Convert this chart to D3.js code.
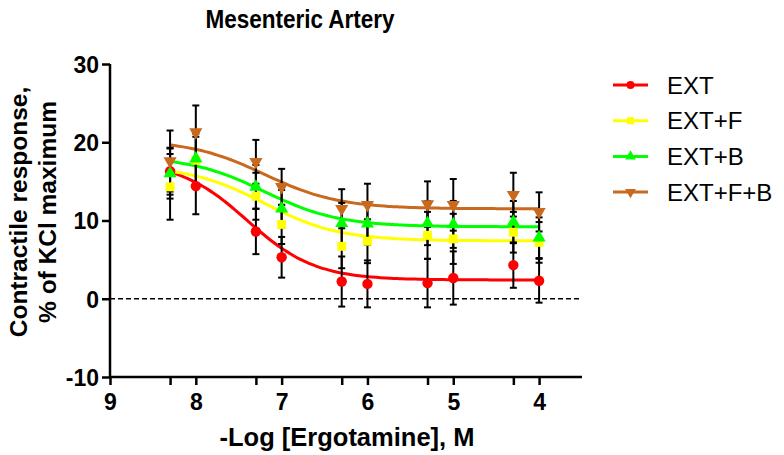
<!DOCTYPE html>
<html><head><meta charset="utf-8">
<script src="https://cdn.jsdelivr.net/npm/d3@7"></script>
<style>html,body{margin:0;padding:0;background:#fff;}svg{display:block;}</style>
</head><body>
<svg id="c" width="784" height="455"></svg>
<script>
const logConc = [8.3, 8, 7.3, 7, 6.3, 6, 5.3, 5, 4.3, 4];
const seriesNames = ["EXT", "EXT+F", "EXT+B", "EXT+F+B"];
const seriesColors = ["#FF0000", "#FFFF00", "#00FF00", "#C8691E"];
const seriesShapes = ["circle", "square", "triangle", "triangleDown"];
const extMean  = [16.3, 14.4, 8.6, 5.3, 2.2, 1.9, 2.0, 2.65, 4.3, 2.3];
const extSem   = [3.0, 3.6, 2.9, 2.6, 3.2, 3.0, 3.1, 3.4, 2.9, 2.8];
const extFMean = [14.3, 17.7, 13.1, 9.5, 6.7, 7.35, 8.1, 7.65, 8.5, 7.2];
const extFSem  = [4.2, 3.0, 3.0, 2.5, 2.8, 2.8, 3.0, 3.2, 2.6, 2.6];
const extBMean = [16.0, 17.9, 14.3, 11.5, 9.65, 9.6, 9.65, 9.5, 9.8, 7.8];
const extBSem  = [3.2, 3.2, 2.8, 2.4, 2.6, 2.7, 2.8, 3.0, 2.7, 2.6];
const extFBMean = [17.6, 21.3, 17.5, 14.3, 11.5, 12.0, 12.1, 12.0, 13.3, 11.1];
const extFBSem  = [3.9, 3.4, 2.8, 2.3, 2.5, 2.7, 2.9, 3.3, 2.8, 2.5];
// sigmoidal fit parameters (top, bottom, -logIC50, hill)
const fitTop    = [17.6, 17.0, 18.2, 20.3];
const fitBottom = [2.4, 7.4, 9.2, 11.5];
const fitMid    = [7.4, 7.2, 7.2, 7.2];
const fitHill   = [1.1, 1.0, 1.0, 1.0];
const xTicks = [9, 8, 7, 6, 5, 4];
const xMinorTicks = [8.3, 7.3, 6.3, 5.3, 4.3];
const yTicks = [-10, 0, 10, 20, 30];
const yTickLabels = ["-10", "0", "10", "20", "30"];

const means = [extMean, extFMean, extBMean, extFBMean];
const sems = [extSem, extFSem, extBSem, extFBSem];

const svg = d3.select("#c");
const x = d3.scaleLinear().domain([9, 3.5]).range([110, 582]);
const y = d3.scaleLinear().domain([-10, 30]).range([377, 64]);
const FONT = "'Liberation Sans', Arial, sans-serif";

// title
svg.append("text").attr("transform", "translate(300,28) scale(0.9,1)").attr("text-anchor", "middle")
  .attr("font-family", FONT).attr("font-weight", "bold").attr("font-size", 25).text("Mesenteric Artery");

// y axis
const yAxis = svg.append("g").attr("transform", `translate(${x(9)},0)`)
  .call(d3.axisLeft(y).tickValues(yTicks).tickSize(8).tickPadding(3)
    .tickFormat((d, i) => yTickLabels[i]));
yAxis.select(".domain").attr("stroke-width", 2.5).attr("d", `M0,${y(30)}V${y(-10)}`);
yAxis.selectAll(".tick line").attr("stroke-width", 2.5);
yAxis.selectAll(".tick text").attr("font-family", FONT).attr("font-weight", "bold").attr("font-size", 23).attr("fill", "#000").attr("dy", "0.36em");

// x axis
const xAxis = svg.append("g").attr("transform", `translate(0,${y(-10)})`)
  .call(d3.axisBottom(x).tickValues(xTicks).tickSize(8).tickPadding(9).tickFormat(d => String(d)));
xAxis.select(".domain").attr("stroke-width", 2.5).attr("d", `M${x(9)},0H${x(3.5)}`);
xAxis.selectAll(".tick line").attr("stroke-width", 2.5);
xAxis.selectAll(".tick text").attr("font-family", FONT).attr("font-weight", "bold").attr("font-size", 23).attr("fill", "#000");
const xMinor = svg.append("g").attr("transform", `translate(0,${y(-10)})`)
  .call(d3.axisBottom(x).tickValues(xMinorTicks).tickSize(8).tickFormat(""));
xMinor.select(".domain").remove();
xMinor.selectAll(".tick line").attr("stroke-width", 2.5);

// axis titles
svg.append("text").attr("x", 347).attr("y", 446).attr("text-anchor", "middle")
  .attr("font-family", FONT).attr("font-weight", "bold").attr("font-size", 25.5).text("-Log [Ergotamine], M");
svg.append("text").attr("transform", "translate(27,212) rotate(-90)").attr("text-anchor", "middle")
  .attr("font-family", FONT).attr("font-weight", "bold").attr("font-size", 24.5).text("Contractile response,");
svg.append("text").attr("transform", "translate(56,212) rotate(-90)").attr("text-anchor", "middle")
  .attr("font-family", FONT).attr("font-weight", "bold").attr("font-size", 24.5).text("% of KCl maximum");

// zero line
svg.append("line").attr("x1", x(9)).attr("x2", x(3.5)).attr("y1", y(0)).attr("y2", y(0))
  .attr("stroke", "#000").attr("stroke-width", 1.3).attr("stroke-dasharray", "5,3");

function symbol(shape) {
  if (shape === "circle") return d3.symbol().type(d3.symbolCircle).size(85)();
  if (shape === "square") return d3.symbol().type(d3.symbolSquare).size(80)();
  return d3.symbol().type(d3.symbolTriangle).size(75)();
}
function symRot(shape) { return shape === "triangleDown" ? " rotate(180)" : ""; }

// curves
const curveGen = d3.line().x(d => x(d[0])).y(d => y(d[1])).curve(d3.curveBasis);
seriesNames.forEach((n, i) => {
  const pts = d3.range(8.3, 3.999, -0.05).map(v =>
    [v, fitBottom[i] + (fitTop[i] - fitBottom[i]) / (1 + Math.pow(10, (fitMid[i] - v) * fitHill[i]))]);
  svg.append("path").attr("d", curveGen(pts)).attr("fill", "none")
    .attr("stroke", seriesColors[i]).attr("stroke-width", 3);
});

// error bars
seriesNames.forEach((n, i) => {
  const g = svg.append("g").attr("stroke", "#000").attr("stroke-width", 2);
  logConc.forEach((v, j) => {
    const m = means[i][j], s = sems[i][j];
    g.append("line").attr("x1", x(v)).attr("x2", x(v)).attr("y1", y(m - s)).attr("y2", y(m + s));
    g.append("line").attr("x1", x(v) - 3.5).attr("x2", x(v) + 3.5).attr("y1", y(m + s)).attr("y2", y(m + s));
    g.append("line").attr("x1", x(v) - 3.5).attr("x2", x(v) + 3.5).attr("y1", y(m - s)).attr("y2", y(m - s));
  });
});

// markers
seriesNames.forEach((n, i) => {
  logConc.forEach((v, j) => {
    svg.append("path").attr("d", symbol(seriesShapes[i]))
      .attr("transform", `translate(${x(v)},${y(means[i][j])})${symRot(seriesShapes[i])}`)
      .attr("fill", seriesColors[i]);
  });
});

// legend
seriesNames.forEach((n, i) => {
  const ly = 85 + i * 35.7;
  svg.append("line").attr("x1", 613).attr("x2", 648).attr("y1", ly).attr("y2", ly)
    .attr("stroke", seriesColors[i]).attr("stroke-width", 3);
  svg.append("path").attr("d", d3.symbol().type(seriesShapes[i] === "circle" ? d3.symbolCircle :
      seriesShapes[i] === "square" ? d3.symbolSquare : d3.symbolTriangle).size(50)())
    .attr("transform", `translate(630.5,${ly})${symRot(seriesShapes[i])}`).attr("fill", seriesColors[i]);
  svg.append("text").attr("x", 667).attr("y", ly + 8.5).attr("font-family", FONT)
    .attr("font-size", 24).text(n);
});
</script>
</body></html>
